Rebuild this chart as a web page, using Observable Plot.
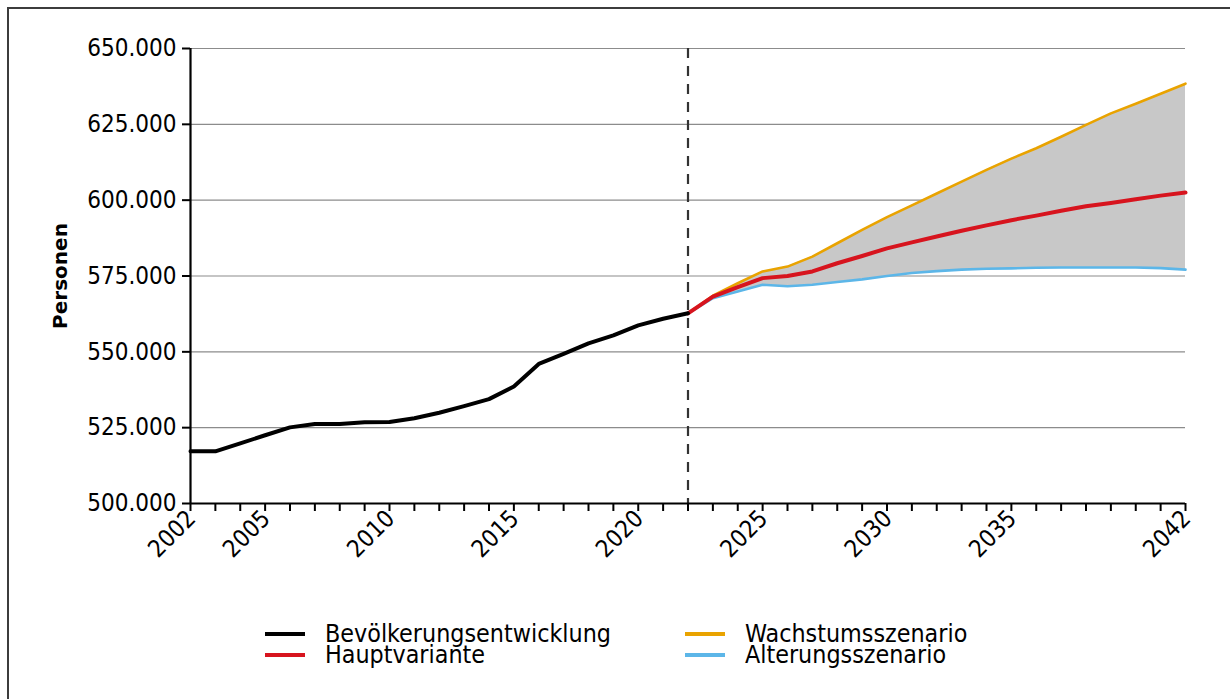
<!DOCTYPE html>
<html>
<head>
<meta charset="utf-8">
<script src="https://cdn.jsdelivr.net/npm/d3@7"></script>
<script src="https://cdn.jsdelivr.net/npm/@observablehq/plot@0.6"></script>
<style>
  html, body { margin: 0; padding: 0; background: #fff; overflow: hidden; }
  body { width: 1230px; height: 699px; position: relative; font-family: "DejaVu Sans Condensed", "DejaVu Sans", sans-serif; }
  #frame { position: absolute; left: 7px; top: 7px; width: 1260px; height: 740px; border: 2px solid #3c3c3c; box-sizing: border-box; }
  #chart { position: absolute; left: 0; top: 0; }
  .leg { position: absolute; font-size: 24.8px; color: #000; line-height: 20px; height: 20px; white-space: nowrap; }
  .sw { position: absolute; height: 4px; width: 40px; }
</style>
</head>
<body>
<div id="frame"></div>
<div id="chart"></div>
<div id="legend"></div>
<script>
// ---- Data ----
const histYears = [2002, 2003, 2004, 2005, 2006, 2007, 2008, 2009, 2010, 2011, 2012, 2013, 2014, 2015, 2016, 2017, 2018, 2019, 2020, 2021, 2022];
const histValues = [517200, 517200, 519800, 522500, 525100, 526200, 526200, 526800, 526900, 528100, 529900, 532100, 534400, 538600, 546000, 549300, 552800, 555400, 558700, 560900, 562700];

const projYears = [2022, 2023, 2024, 2025, 2026, 2027, 2028, 2029, 2030, 2031, 2032, 2033, 2034, 2035, 2036, 2037, 2038, 2039, 2040, 2041, 2042];
const hauptValues = [562700, 568200, 571300, 574300, 575000, 576500, 579200, 581600, 584100, 586100, 588000, 589900, 591700, 593400, 594900, 596500, 598000, 599100, 600300, 601500, 602500];
const wachstumValues = [562700, 568500, 572600, 576500, 578100, 581400, 585800, 590200, 594400, 598300, 602200, 606100, 610000, 613700, 617100, 620900, 624800, 628600, 631800, 635100, 638400];
const alterungValues = [562700, 567700, 569900, 572100, 571600, 572100, 573000, 573900, 575000, 576000, 576600, 577100, 577400, 577500, 577700, 577800, 577800, 577800, 577800, 577600, 577100];

const tickYears = [2002, 2003, 2004, 2005, 2006, 2007, 2008, 2009, 2010, 2011, 2012, 2013, 2014, 2015, 2016, 2017, 2018, 2019, 2020, 2021, 2022, 2023, 2024, 2025, 2026, 2027, 2028, 2029, 2030, 2031, 2032, 2033, 2034, 2035, 2036, 2037, 2038, 2039, 2040, 2041, 2042];
const labelYears = [2002, 2005, 2010, 2015, 2020, 2025, 2030, 2035, 2042];
const yTicks = [500000, 525000, 550000, 575000, 600000, 625000, 650000];
const splitYear = [2022];
const yTitle = "Personen";

const seriesNames = ["Bevölkerungsentwicklung", "Hauptvariante", "Wachstumsszenario", "Alterungsszenario"];
const seriesColors = ["#000000", "#d7141e", "#e9a300", "#5cb6e8"];

// ---- Tables ----
const hist = histYears.map((y, i) => ({year: y, value: histValues[i]}));
const proj = projYears.map((y, i) => ({year: y, haupt: hauptValues[i], wachstum: wachstumValues[i], alterung: alterungValues[i]}));

const de = d3.formatLocale({decimal: ",", thousands: ".", grouping: [3], currency: ["", " €"]});
const fmt = de.format(",");

const font = "'DejaVu Sans Condensed', 'DejaVu Sans', sans-serif";

const chart = Plot.plot({
  width: 1230,
  height: 600,
  marginLeft: 190,
  marginRight: 45,
  marginTop: 48,
  marginBottom: 97,
  style: {fontFamily: font, fontSize: "24px", color: "#000", background: "transparent"},
  x: {domain: [2002, 2042], type: "linear"},
  y: {domain: [500000, 650000]},
  marks: [
    Plot.gridY(yTicks, {stroke: "#8c8c8c", strokeOpacity: 1, strokeWidth: 1.2}),
    Plot.areaY(proj, {x: "year", y1: "alterung", y2: "wachstum", fill: "#c8c8c8"}),
    Plot.ruleX(splitYear, {stroke: "#333", strokeWidth: 2.2, strokeDasharray: "10,8"}),
    Plot.lineY(proj, {x: "year", y: "wachstum", stroke: seriesColors[2], strokeWidth: 2.6}),
    Plot.lineY(proj, {x: "year", y: "alterung", stroke: seriesColors[3], strokeWidth: 2.6}),
    Plot.lineY(proj, {x: "year", y: "haupt", stroke: seriesColors[1], strokeWidth: 4}),
    Plot.lineY(hist, {x: "year", y: "value", stroke: seriesColors[0], strokeWidth: 4}),
    Plot.axisY(yTicks, {tickFormat: fmt, tickSize: 8, tickPadding: 6, stroke: "#000", strokeWidth: 2, label: null, fontSize: 24}),
    Plot.axisX(tickYears, {tickFormat: () => "", tickSize: 8, stroke: "#000", strokeWidth: 2, label: null}),
    Plot.axisX(labelYears, {tickFormat: d => String(d), tickSize: 0, tickPadding: 11, tickRotate: -45, label: null, fontSize: 24, dx: 1}),
    Plot.ruleY([500000], {stroke: "#000", strokeWidth: 2.2}),
    Plot.ruleX([2002], {stroke: "#000", strokeWidth: 2.2}),
    Plot.text([yTitle], {frameAnchor: "left", dx: -130, rotate: -90, textAnchor: "middle", fontWeight: "bold", fontSize: 20, fontFamily: "'DejaVu Sans', sans-serif", fill: "#000"})
  ]
});
document.getElementById("chart").appendChild(chart);

// ---- Legend (HTML, below the SVG) ----
const legend = document.getElementById("legend");
const legPos = [
  {sx: 265, tx: 325, y: 634},
  {sx: 265, tx: 325, y: 655},
  {sx: 685, tx: 745, y: 634},
  {sx: 685, tx: 745, y: 655}
];
seriesNames.forEach((name, i) => {
  const p = legPos[i];
  const sw = document.createElement("div");
  sw.className = "sw";
  sw.style.left = p.sx + "px";
  sw.style.top = (p.y - 2) + "px";
  sw.style.background = seriesColors[i];
  legend.appendChild(sw);
  const t = document.createElement("div");
  t.className = "leg";
  t.style.left = p.tx + "px";
  t.style.top = (p.y - 10) + "px";
  t.textContent = name;
  legend.appendChild(t);
});
</script>
</body>
</html>
